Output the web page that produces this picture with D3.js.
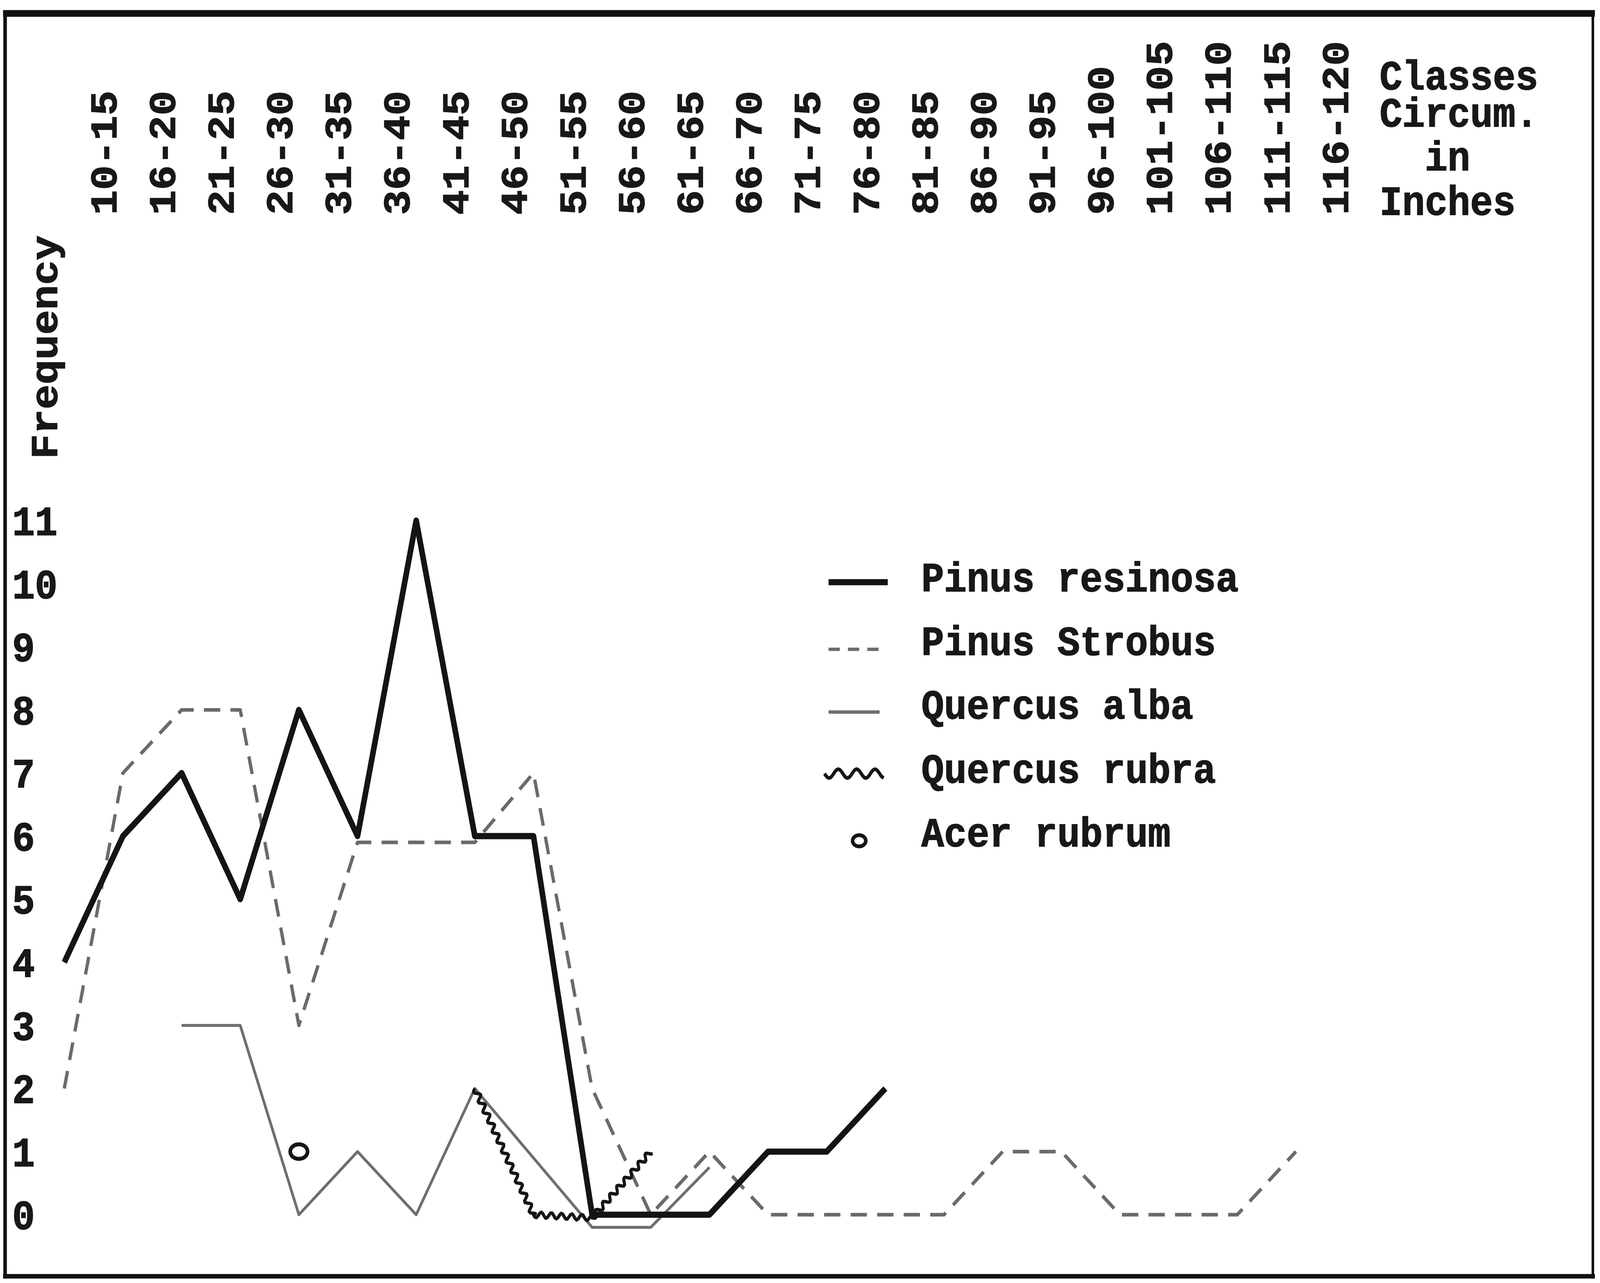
<!DOCTYPE html>
<html>
<head>
<meta charset="utf-8">
<script src="https://cdn.jsdelivr.net/npm/d3@7/dist/d3.min.js"></script>
<style>
  html, body { margin: 0; padding: 0; background: #fff; overflow: hidden; }
  #graph svg { display: block; width: 100vw; height: 100vh; }
  text { font-family: "Liberation Mono", "DejaVu Sans Mono", monospace; font-weight: bold;
         fill: #181818; stroke: #181818; stroke-width: 0.7px; }
</style>
</head>
<body>
<div id="graph"></div>
<script>
// circumference classes (x) and frequencies
var classes = ["10-15", "16-20", "21-25", "26-30", "31-35", "36-40", "41-45", "46-50",
    "51-55", "56-60", "61-65", "66-70", "71-75", "76-80", "81-85", "86-90", "91-95",
    "96-100", "101-105", "106-110", "111-115", "116-120"];

var pinusResinosa = [4, 6, 7, 5, 8, 6, 11, 6, 6, 0, 0, 0, 1, 1, 2];
var pinusStrobus = [2, 7, 8, 8, 3, 5.9, 5.9, 5.9, 7, 2, 0, 1, 0, 0, 0, 0, 1, 1, 0, 0, 0, 1];
var quercusAlba = [null, null, 3, 3, 0, 1, 0, 2, 0.9, -0.2, -0.2, 0.75];
var quercusRubra = [null, null, null, null, null, null, null, 2, 0, -0.05, 1];
var acerRubrum = [null, null, null, null, 1];

var yTicks = [0, 1, 2, 3, 4, 5, 6, 7, 8, 9, 10, 11];
var legendLabels = ["Pinus resinosa", "Pinus Strobus", "Quercus alba", "Quercus rubra", "Acer rubrum"];
var xTitle = ["Classes", "Circum.", "  in", "Inches"];
var yTitle = "Frequency";

var W = 1568, H = 1146;

var svg = d3.select('#graph')
    .append('svg')
    .attr('viewBox', '0 0 ' + W + ' ' + H)
    .attr('preserveAspectRatio', 'none');

svg.append('rect').attr('width', W).attr('height', H).attr('fill', '#fff');

var x = d3.scalePoint()
    .domain(classes)
    .range([63, 1270]);

var y = d3.scaleLinear()
    .domain([0, 11])
    .range([1085, 465]);

// frame
var frame = svg.append('g').attr('stroke', '#111').attr('fill', 'none');
frame.append('line').attr('x1', 3).attr('x2', 1563).attr('y1', 12).attr('y2', 12).attr('stroke-width', 6);
frame.append('line').attr('x1', 5).attr('x2', 5).attr('y1', 10).attr('y2', 1142).attr('stroke-width', 3.5);
frame.append('line').attr('x1', 1561).attr('x2', 1561).attr('y1', 10).attr('y2', 1142).attr('stroke-width', 2.5);
frame.append('line').attr('x1', 3).attr('x2', 1563).attr('y1', 1140).attr('y2', 1140).attr('stroke-width', 4);

var fontSize = 37;

// class labels, typed sideways
svg.append('g').selectAll('text')
    .data(classes)
    .enter()
    .append('text')
    .attr('transform', function(d) {
        return 'translate(' + (x(d) + 38) + ',192) rotate(-90)';
    })
    .attr('dy', '0.35em')
    .attr('font-size', fontSize)
    .text(function(d) { return d; });

// axis title as one typed block
svg.append('text')
    .attr('font-size', fontSize)
    .style('white-space', 'pre')
    .selectAll('tspan')
    .data(xTitle)
    .enter()
    .append('tspan')
    .attr('x', 1352)
    .attr('y', function(d, i) { return [80, 113, 152, 192][i]; })
    .text(function(d) { return d; });

svg.append('text')
    .attr('transform', 'translate(56,410) rotate(-90)')
    .attr('font-size', fontSize)
    .text(yTitle);

// frequency labels
svg.append('g').selectAll('text')
    .data(yTicks)
    .enter()
    .append('text')
    .attr('x', 12)
    .attr('y', function(d) { return y(d); })
    .attr('dy', '0.35em')
    .attr('font-size', fontSize)
    .text(function(d) { return d; });

function pts(values) {
    return values.map(function(v, i) { return [classes[i], v]; });
}

var line = d3.line()
    .defined(function(d) { return d[1] !== null; })
    .x(function(d) { return x(d[0]); })
    .y(function(d) { return y(d[1]); });

// wavy stroke following straight segments
function wavy(points, amp, wl) {
    var out = [];
    for (var k = 0; k < points.length - 1; k++) {
        var a = points[k], b = points[k + 1];
        var dx = b[0] - a[0], dy = b[1] - a[1];
        var len = Math.sqrt(dx * dx + dy * dy);
        var nx = -dy / len, ny = dx / len;
        var n = Math.max(2, Math.round(len / 1.5));
        for (var j = 0; j <= n; j++) {
            var t = j / n;
            var o = amp * Math.sin(2 * Math.PI * t * len / wl);
            out.push([a[0] + dx * t + nx * o, a[1] + dy * t + ny * o]);
        }
    }
    return d3.line()(out);
}

var plot = svg.append('g').attr('fill', 'none').attr('stroke-linejoin', 'round');

plot.append('path')
    .attr('d', line(pts(quercusAlba)))
    .attr('stroke', '#6e6e6e')
    .attr('stroke-width', 2.6);

plot.append('path')
    .attr('d', line(pts(pinusStrobus)))
    .attr('stroke', '#6a6a6a')
    .attr('stroke-width', 3.2)
    .attr('stroke-dasharray', '16,10');

var rubraPts = pts(quercusRubra)
    .filter(function(d) { return d[1] !== null; })
    .map(function(d) { return [x(d[0]), y(d[1])]; });

plot.append('path')
    .attr('d', wavy(rubraPts, 2.6, 10))
    .attr('stroke', '#151515')
    .attr('stroke-width', 3);

plot.append('path')
    .attr('d', line(pts(pinusResinosa)))
    .attr('stroke', '#141414')
    .attr('stroke-width', 5.5);

plot.selectAll('.acer')
    .data(pts(acerRubrum).filter(function(d) { return d[1] !== null; }))
    .enter()
    .append('ellipse')
    .attr('class', 'acer')
    .attr('cx', function(d) { return x(d[0]); })
    .attr('cy', function(d) { return y(d[1]); })
    .attr('rx', 8.5)
    .attr('ry', 6.5)
    .attr('stroke', '#151515')
    .attr('stroke-width', 3.6);

// legend
var legend = svg.append('g').attr('fill', 'none');
var rowY = function(i) { return 520 + 57 * i; };

legend.append('line').attr('x1', 812).attr('x2', 870).attr('y1', rowY(0)).attr('y2', rowY(0))
    .attr('stroke', '#141414').attr('stroke-width', 5.5);
legend.append('line').attr('x1', 812).attr('x2', 864).attr('y1', rowY(1) + 3).attr('y2', rowY(1) + 3)
    .attr('stroke', '#6a6a6a').attr('stroke-width', 3).attr('stroke-dasharray', '11,8');
legend.append('line').attr('x1', 812).attr('x2', 862).attr('y1', rowY(2) + 2).attr('y2', rowY(2) + 2)
    .attr('stroke', '#6e6e6e').attr('stroke-width', 3);
legend.append('path').attr('d', wavy([[808, rowY(3)], [866, rowY(3)]], 4, 18))
    .attr('stroke', '#151515').attr('stroke-width', 3.2);
legend.append('ellipse').attr('cx', 842).attr('cy', rowY(4) + 3).attr('rx', 6.5).attr('ry', 5)
    .attr('stroke', '#151515').attr('stroke-width', 3.4);

svg.append('g').selectAll('text')
    .data(legendLabels)
    .enter()
    .append('text')
    .attr('x', 903)
    .attr('y', function(d, i) { return rowY(i) + 8; })
    .attr('font-size', fontSize)
    .text(function(d) { return d; });
</script>
</body>
</html>
